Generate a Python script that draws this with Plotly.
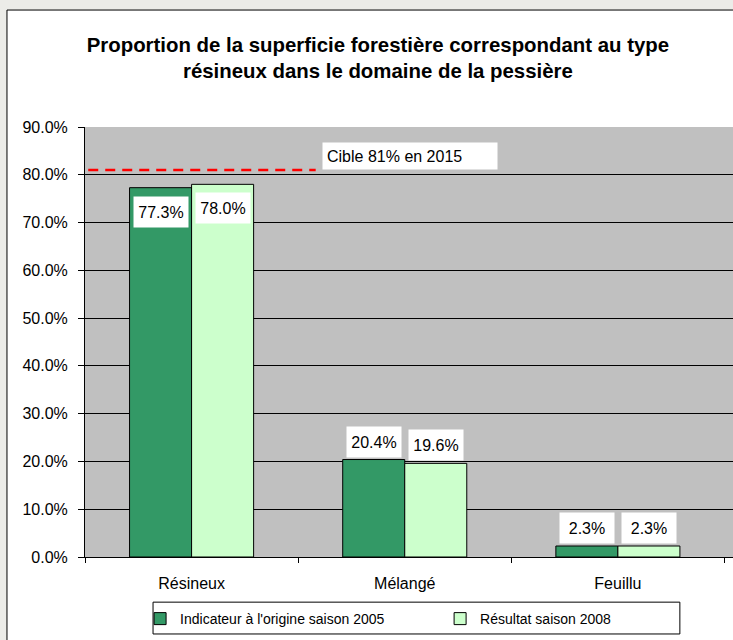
import plotly.graph_objects as go

categories = ["Résineux", "Mélangé", "Feuillu"]
series_names = ["Indicateur à l'origine saison 2005", "Résultat saison 2008"]
values_2005 = [77.3, 20.4, 2.3]
values_2008 = [78.0, 19.6, 2.3]
target_value = 81
target_label = "Cible 81% en 2015"
y_ticks = [0, 10, 20, 30, 40, 50, 60, 70, 80, 90]
title_text = "Proportion de la superficie forestière correspondant au type<br>résineux dans le domaine de la pessière"

FONT = "Liberation Sans, Arial, sans-serif"
colors = ["#339966", "#CCFFCC"]
OUTER_BG = "#ECECE8"
legend_ids = ["legend", "legend2"]

fig = go.Figure()
for name, vals, col, lg in zip(series_names, [values_2005, values_2008], colors, legend_ids):
    fig.add_trace(go.Bar(
        x=categories, y=vals, name=name, legend=lg,
        marker=dict(color=col, line=dict(color="black", width=1)),
        hoverinfo="skip",
    ))

# data labels
annotations = []
for si, vals in enumerate([values_2005, values_2008]):
    shift = -31 if si == 0 else 31
    for ci, v in enumerate(vals):
        inside = v > 50
        annotations.append(dict(
            x=categories[ci], y=v, xref="x", yref="y",
            text=f"{v:.1f}%", showarrow=False,
            xshift=shift, yshift=-8 if inside else 2,
            yanchor="top" if inside else "bottom",
            height=22, width=46, valign="middle",
            bgcolor="white", borderpad=4,
            font=dict(family=FONT, size=16, color="black"),
        ))

annotations.append(dict(
    x=0.366, y=target_value, xref="paper", yref="y",
    xanchor="left", yanchor="bottom",
    text=target_label, showarrow=False, align="left",
    width=166, height=18, valign="middle", bgcolor="white", borderpad=4,
    font=dict(family=FONT, size=16, color="black"),
))

shapes = [
    # outer chart frame
    dict(type="rect", xref="paper", yref="paper", x0=-0.1204, x1=1.2, y0=-0.4, y1=1.272,
         fillcolor="white", line=dict(color="black", width=1), layer="below"),
    # plot area background (drawn over the frame fill)
    dict(type="rect", xref="paper", yref="paper", x0=0, x1=1, y0=0, y1=1,
         fillcolor="#C0C0C0", line=dict(width=0), layer="below"),
    # legend box
    dict(type="rect", xref="paper", yref="paper", x0=0.105, x1=0.918, y0=-0.179, y1=-0.105,
         fillcolor="white", line=dict(color="black", width=1), layer="below"),
    # target line
    dict(type="line", xref="paper", yref="y", x0=0.005, x1=0.356, y0=target_value, y1=target_value,
         line=dict(color="#FF0000", width=2.5, dash="10px,7px")),
]

legend_common = dict(orientation="h", yanchor="top", y=-0.107, xanchor="left",
                     bgcolor="rgba(0,0,0,0)", borderwidth=0,
                     font=dict(family=FONT, size=14, color="black"), itemwidth=30)

fig.update_layout(
    width=733, height=640,
    margin=dict(l=85, r=0, t=127, b=83),
    paper_bgcolor=OUTER_BG,
    plot_bgcolor="#C0C0C0",
    barmode="group",
    bargap=0.418, bargroupgap=0,
    title=dict(text=title_text, x=0.452, xref="paper", xanchor="center",
               y=0.919, yanchor="middle",
               font=dict(family=FONT, size=20.4, color="black", weight="bold")),
    font=dict(family=FONT, size=14, color="black"),
    xaxis=dict(range=[-0.5, 2.54], tickson="boundaries", ticks="outside", ticklen=5,
               tickcolor="black", showgrid=False, showline=True, linecolor="black",
               tickfont=dict(size=16), ticklabelstandoff=12, fixedrange=True),
    yaxis=dict(range=[0, 90], tickvals=y_ticks, ticktext=[f"{t:.1f}%" for t in y_ticks],
               ticks="outside", ticklen=6, tickcolor="black",
               showgrid=True, gridcolor="black", gridwidth=1,
               showline=True, linecolor="black", zeroline=False,
               tickfont=dict(size=16), ticklabelstandoff=7, fixedrange=True),
    legend=dict(x=0.085, **legend_common),
    legend2=dict(x=0.548, **legend_common),
    annotations=annotations,
    shapes=shapes,
    showlegend=True,
)

fig.write_html("out.html", config={"displayModeBar": False},
               post_script="document.body.style.margin='0';document.body.style.background='%s';" % OUTER_BG)
